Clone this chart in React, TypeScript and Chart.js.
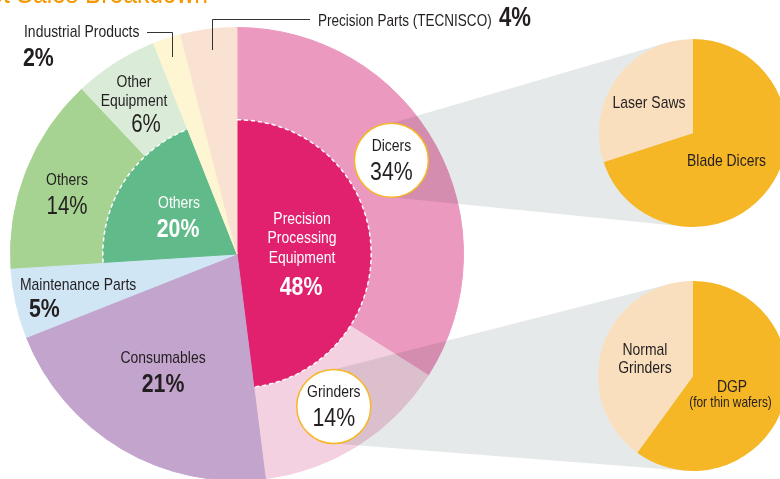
import { useEffect, useRef } from 'react';
import { Chart, registerables } from 'chart.js';

Chart.register(...registerables);

// ---------- data ----------
const outerLabels = [
  'Dicers',
  'Grinders',
  'Consumables',
  'Maintenance Parts',
  'Others',
  'Other Equipment',
  'Industrial Products',
  'Precision Parts (TECNISCO)',
];
const outerValues = [34, 14, 21, 5, 14, 6, 2, 4];
const outerColors = ['#EB99BF', '#F4D1E0', '#C3A4CD', '#D0E6F5', '#A6D391', '#DAECD8', '#FEF6D3', '#F9E2D2'];

const innerLabels = [
  'Precision Processing Equipment',
  'Consumables',
  'Maintenance Parts',
  'Others',
  'Industrial Products',
  'Precision Parts (TECNISCO)',
];
const innerValues = [48, 21, 5, 20, 2, 4];
const innerColors = ['#E1206E', '#C3A4CD', '#D0E6F5', '#60BA89', '#FEF6D3', '#F9E2D2'];
const innerDashed = [0, 3];

const dicerLabels = ['Blade Dicers', 'Laser Saws'];
const dicerValues = [70, 30];
const grinderLabels = ['DGP', 'Normal Grinders'];
const grinderValues = [60, 40];
const subColors = ['#F6B727', '#F9DFBE'];

const calloutIndex = [0, 1];
const calloutFrac = [0.48, 0.5];

// ---------- layout / style ----------
const W = 780;
const H = 479;
const MAIN_H = 510;
const DICER_BOX = { left: 599, top: 39, size: 188 };
const GRINDER_BOX = { left: 598, top: 281, size: 190 };
const FONT = '"Liberation Sans", Arial, sans-serif';
const NARROW = 0.82;
const TEXT = '#231F20';
const ORANGE = '#F39800';

type Txt = { t: string; x: number; y: number; size: number; bold?: boolean; color?: string; align?: CanvasTextAlign };

function drawText(ctx: CanvasRenderingContext2D, o: Txt) {
  ctx.save();
  ctx.font = `${o.bold ? 'bold ' : ''}${o.size}px ${FONT}`;
  ctx.fillStyle = o.color || TEXT;
  ctx.textBaseline = 'alphabetic';
  ctx.textAlign = o.align || 'center';
  ctx.translate(o.x, o.y);
  ctx.scale(NARROW, 1);
  ctx.fillText(o.t, 0, 0);
  ctx.restore();
}

const pct = (v: number) => `${v}%`;

const mainTexts: Txt[] = [
  { t: outerLabels[6], x: 24, y: 37, size: 17, align: 'left' },
  { t: pct(outerValues[6]), x: 23, y: 66, size: 26, bold: true, align: 'left' },
  { t: outerLabels[7], x: 318, y: 26, size: 16.5, align: 'left' },
  { t: pct(outerValues[7]), x: 499, y: 26, size: 27, bold: true, align: 'left' },
  { t: 'Other', x: 134, y: 87, size: 17 },
  { t: 'Equipment', x: 134, y: 106, size: 17 },
  { t: pct(outerValues[5]), x: 146, y: 132, size: 25 },
  { t: outerLabels[4], x: 67, y: 185, size: 17 },
  { t: pct(outerValues[4]), x: 67, y: 214, size: 25 },
  { t: outerLabels[3], x: 20, y: 290, size: 17, align: 'left' },
  { t: pct(outerValues[3]), x: 29, y: 317, size: 26, bold: true, align: 'left' },
  { t: outerLabels[2], x: 163, y: 363, size: 17 },
  { t: pct(outerValues[2]), x: 163, y: 392, size: 26, bold: true },
  { t: innerLabels[3], x: 179, y: 208, size: 17, color: '#fff' },
  { t: pct(innerValues[3]), x: 178, y: 237, size: 26, bold: true, color: '#fff' },
  { t: 'Precision', x: 302, y: 224, size: 17, color: '#fff' },
  { t: 'Processing', x: 302, y: 243, size: 17, color: '#fff' },
  { t: 'Equipment', x: 302, y: 263, size: 17, color: '#fff' },
  { t: pct(innerValues[0]), x: 301, y: 295, size: 26, bold: true, color: '#fff' },
];

const leaderLines: [number, number][][] = [
  [[147, 32.5], [172.5, 32.5], [172.5, 57]],
  [[212.5, 50], [212.5, 19.5], [310, 19.5]],
];

function tangent(px: number, py: number, cx: number, cy: number, r: number, upper: boolean) {
  const dx = cx - px;
  const dy = cy - py;
  const d = Math.hypot(dx, dy);
  const base = Math.atan2(dy, dx);
  const off = Math.asin(r / d);
  const dir = upper ? base - off : base + off;
  const len = Math.sqrt(d * d - r * r);
  return [px + len * Math.cos(dir), py + len * Math.sin(dir)];
}

const boxCircle = (b: { left: number; top: number; size: number }) => ({
  x: b.left + b.size / 2,
  y: b.top + b.size / 2,
  r: b.size / 2,
});

const mainPlugin = {
  id: 'mainDecor',
  afterDatasetsDraw(chart: any) {
    const ctx: CanvasRenderingContext2D = chart.ctx;
    const outerMeta = chart.getDatasetMeta(0);
    const innerMeta = chart.getDatasetMeta(1);

    // dashed arcs on inner segments
    ctx.save();
    ctx.strokeStyle = '#fff';
    ctx.lineWidth = 1.5;
    ctx.setLineDash([4, 3]);
    innerDashed.forEach((i) => {
      const p = innerMeta.data[i].getProps(['x', 'y', 'startAngle', 'endAngle', 'outerRadius'], true);
      ctx.beginPath();
      ctx.arc(p.x, p.y, p.outerRadius - 0.5, p.startAngle, p.endAngle);
      ctx.stroke();
    });
    ctx.restore();

    // callout circle positions
    const callouts = calloutIndex.map((idx, k) => {
      const p = outerMeta.data[idx].getProps(['x', 'y', 'startAngle', 'endAngle', 'innerRadius', 'outerRadius'], true);
      const ang = p.startAngle + (p.endAngle - p.startAngle) * calloutFrac[k];
      const r = (p.innerRadius + p.outerRadius) / 2;
      return { x: p.x + r * Math.cos(ang), y: p.y + r * Math.sin(ang), r: 37 };
    });

    // bands
    const targets = [boxCircle(DICER_BOX), boxCircle(GRINDER_BOX)];
    ctx.save();
    ctx.globalCompositeOperation = 'multiply';
    ctx.fillStyle = '#E6E9EA';
    callouts.forEach((c, k) => {
      const t = targets[k];
      const p1 = [c.x, c.y - c.r];
      const p2 = [c.x, c.y + c.r];
      const t1 = tangent(p1[0], p1[1], t.x, t.y, t.r, true);
      const t2 = tangent(p2[0], p2[1], t.x, t.y, t.r, false);
      ctx.beginPath();
      ctx.moveTo(p1[0], p1[1]);
      ctx.lineTo(t1[0], t1[1]);
      ctx.lineTo(t.x, t.y);
      ctx.lineTo(t2[0], t2[1]);
      ctx.lineTo(p2[0], p2[1]);
      ctx.closePath();
      ctx.fill();
    });
    ctx.restore();

    // callout circles
    callouts.forEach((c, k) => {
      ctx.save();
      ctx.beginPath();
      ctx.arc(c.x, c.y, c.r, 0, Math.PI * 2);
      ctx.fillStyle = '#fff';
      ctx.fill();
      ctx.lineWidth = 1.5;
      ctx.strokeStyle = '#F6B727';
      ctx.stroke();
      ctx.restore();
      const idx = calloutIndex[k];
      drawText(ctx, { t: outerLabels[idx], x: c.x, y: c.y - 9, size: 17 });
      drawText(ctx, { t: pct(outerValues[idx]), x: c.x, y: c.y + 20, size: 26 });
    });

    // leader lines
    ctx.save();
    ctx.strokeStyle = '#333';
    ctx.lineWidth = 1;
    leaderLines.forEach((pts) => {
      ctx.beginPath();
      pts.forEach(([x, y], i) => (i ? ctx.lineTo(x, y) : ctx.moveTo(x, y)));
      ctx.stroke();
    });
    ctx.restore();

    mainTexts.forEach((o) => drawText(ctx, o));

    // title (cut off at the top edge)
    drawText(ctx, { t: 'Net Sales Breakdown', x: 208, y: 3, size: 30, color: ORANGE, align: 'right' });
  },
};

function subPlugin(texts: Txt[]) {
  return {
    id: 'subLabels',
    afterDatasetsDraw(chart: any) {
      const ctx: CanvasRenderingContext2D = chart.ctx;
      const a = chart.getDatasetMeta(0).data[0];
      const { x, y } = a.getProps(['x', 'y'], true);
      texts.forEach((o) => drawText(ctx, { ...o, x: x + o.x, y: y + o.y }));
    },
  };
}

function subConfig(labels: string[], values: number[], texts: Txt[]): any {
  return {
    type: 'pie',
    data: {
      labels,
      datasets: [{ data: values, backgroundColor: subColors, borderWidth: 0, hoverOffset: 0 }],
    },
    options: {
      responsive: false,
      maintainAspectRatio: false,
      animation: false,
      events: [],
      layout: { padding: 0 },
      plugins: { legend: { display: false }, tooltip: { enabled: false }, title: { display: false } },
    },
    plugins: [subPlugin(texts)],
  };
}

export default function App() {
  const mainRef = useRef<HTMLCanvasElement>(null);
  const dRef = useRef<HTMLCanvasElement>(null);
  const gRef = useRef<HTMLCanvasElement>(null);

  useEffect(() => {
    const charts: Chart[] = [];
    const outerW = 92;
    const innerW = 135;
    charts.push(
      new Chart(mainRef.current as HTMLCanvasElement, {
        type: 'doughnut',
        data: {
          labels: outerLabels,
          datasets: [
            {
              data: outerValues,
              backgroundColor: outerColors,
              borderColor: outerColors,
              borderWidth: 1,
              weight: outerW,
              hoverOffset: 0,
            } as any,
            {
              data: innerValues,
              backgroundColor: innerColors,
              borderColor: innerColors,
              borderWidth: 1,
              weight: innerW,
              hoverOffset: 0,
            } as any,
          ],
        },
        options: {
          responsive: false,
          maintainAspectRatio: false,
          animation: false,
          events: [],
          cutout: 0,
          layout: { padding: { left: 10, right: W - 464, top: 27, bottom: MAIN_H - 481 } },
          plugins: { legend: { display: false }, tooltip: { enabled: false }, title: { display: false } },
        } as any,
        plugins: [mainPlugin],
      })
    );
    charts.push(
      new Chart(
        dRef.current as HTMLCanvasElement,
        subConfig(dicerLabels, dicerValues, [
          { t: dicerLabels[1], x: -44, y: -25, size: 17 },
          { t: dicerLabels[0], x: 33.5, y: 33, size: 17 },
        ])
      )
    );
    charts.push(
      new Chart(
        gRef.current as HTMLCanvasElement,
        subConfig(grinderLabels, grinderValues, [
          { t: 'Normal', x: -48, y: -21, size: 17 },
          { t: 'Grinders', x: -48, y: -3, size: 17 },
          { t: grinderLabels[0], x: 39, y: 16, size: 17 },
          { t: '(for thin wafers)', x: 37.5, y: 31, size: 14.5 },
        ])
      )
    );
    return () => charts.forEach((c) => c.destroy());
  }, []);

  return (
    <div
      style={{
        position: 'fixed',
        left: 0,
        top: 0,
        width: W,
        height: H,
        overflow: 'hidden',
        background: '#fff',
      }}
    >
      <canvas ref={mainRef} width={W} height={MAIN_H} style={{ position: 'absolute', left: 0, top: 0 }} />
      <canvas
        ref={dRef}
        width={DICER_BOX.size}
        height={DICER_BOX.size}
        style={{ position: 'absolute', left: DICER_BOX.left, top: DICER_BOX.top }}
      />
      <canvas
        ref={gRef}
        width={GRINDER_BOX.size}
        height={GRINDER_BOX.size}
        style={{ position: 'absolute', left: GRINDER_BOX.left, top: GRINDER_BOX.top }}
      />
    </div>
  );
}
